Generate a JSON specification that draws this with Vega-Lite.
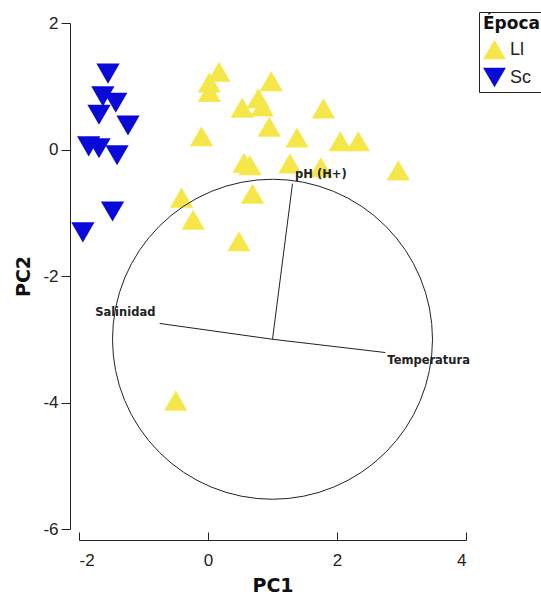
{
  "$schema": "https://vega.github.io/schema/vega-lite/v6.json",
  "autosize": {"type": "none"},
  "padding": {"left": 79, "top": 23, "right": 75, "bottom": 65},
  "width": 387,
  "height": 506,
  "background": "white",
  "config": {
    "view": {"stroke": null},
    "font": "DejaVu Sans",
    "axis": {
      "grid": false,
      "domainColor": "#222222",
      "tickColor": "#222222",
      "labelColor": "#222222",
      "labelFont": "Liberation Sans",
      "labelFontSize": 17,
      "titleFont": "DejaVu Sans",
      "titleFontSize": 19,
      "titleFontWeight": "bold",
      "titleColor": "#111111"
    }
  },
  "datasets": {
    "scores": [
      {"PC1": -1.55, "PC2": 1.20, "Epoca": "Sc"},
      {"PC1": -1.63, "PC2": 0.84, "Epoca": "Sc"},
      {"PC1": -1.43, "PC2": 0.74, "Epoca": "Sc"},
      {"PC1": -1.69, "PC2": 0.55, "Epoca": "Sc"},
      {"PC1": -1.24, "PC2": 0.38, "Epoca": "Sc"},
      {"PC1": -1.85, "PC2": 0.05, "Epoca": "Sc"},
      {"PC1": -1.69, "PC2": 0.02, "Epoca": "Sc"},
      {"PC1": -1.41, "PC2": -0.09, "Epoca": "Sc"},
      {"PC1": -1.48, "PC2": -0.98, "Epoca": "Sc"},
      {"PC1": -1.94, "PC2": -1.31, "Epoca": "Sc"},
      {"PC1": 0.17, "PC2": 1.23, "Epoca": "Ll"},
      {"PC1": 0.02, "PC2": 1.06, "Epoca": "Ll"},
      {"PC1": 0.02, "PC2": 0.91, "Epoca": "Ll"},
      {"PC1": 0.98, "PC2": 1.08, "Epoca": "Ll"},
      {"PC1": 0.53, "PC2": 0.66, "Epoca": "Ll"},
      {"PC1": 0.78, "PC2": 0.81, "Epoca": "Ll"},
      {"PC1": 0.84, "PC2": 0.68, "Epoca": "Ll"},
      {"PC1": 0.95, "PC2": 0.36, "Epoca": "Ll"},
      {"PC1": -0.10, "PC2": 0.21, "Epoca": "Ll"},
      {"PC1": 0.56, "PC2": -0.21, "Epoca": "Ll"},
      {"PC1": 0.65, "PC2": -0.25, "Epoca": "Ll"},
      {"PC1": 1.27, "PC2": -0.22, "Epoca": "Ll"},
      {"PC1": 1.79, "PC2": 0.65, "Epoca": "Ll"},
      {"PC1": 1.38, "PC2": 0.19, "Epoca": "Ll"},
      {"PC1": 2.05, "PC2": 0.13, "Epoca": "Ll"},
      {"PC1": 2.33, "PC2": 0.13, "Epoca": "Ll"},
      {"PC1": 1.75, "PC2": -0.28, "Epoca": "Ll"},
      {"PC1": 2.95, "PC2": -0.33, "Epoca": "Ll"},
      {"PC1": 0.69, "PC2": -0.70, "Epoca": "Ll"},
      {"PC1": -0.41, "PC2": -0.76, "Epoca": "Ll"},
      {"PC1": -0.23, "PC2": -1.11, "Epoca": "Ll"},
      {"PC1": 0.48, "PC2": -1.45, "Epoca": "Ll"},
      {"PC1": -0.50, "PC2": -3.97, "Epoca": "Ll"}
    ],
    "vectors": [
      {"variable": "pH (H+)", "x0": 1.0, "y0": -3.0, "x1": 1.31, "y1": -0.54, "lx": 1.35, "ly": -0.41},
      {"variable": "Salinidad", "x0": 1.0, "y0": -3.0, "x1": -0.75, "y1": -2.75, "lx": -1.75, "ly": -2.59},
      {"variable": "Temperatura", "x0": 1.0, "y0": -3.0, "x1": 2.75, "y1": -3.21, "lx": 2.78, "ly": -3.35}
    ],
    "circle": [
      {"cx": 1.0, "cy": -3.0}
    ]
  },
  "layer": [
    {
      "data": {"name": "scores"},
      "mark": {"type": "point", "filled": true, "opacity": 1, "size": 540},
      "encoding": {
        "x": {
          "field": "PC1", "type": "quantitative",
          "scale": {"domain": [-2, 4], "nice": false, "zero": false},
          "axis": {"title": "PC1", "values": [-2, 0, 2, 4], "labelExpr": "toString(datum.value)", "offset": 11, "tickSize": -8, "labelPadding": 20, "titlePadding": 8}
        },
        "y": {
          "field": "PC2", "type": "quantitative",
          "scale": {"domain": [-6, 2], "nice": false, "zero": false},
          "axis": {"title": "PC2", "values": [-6, -4, -2, 0, 2], "labelExpr": "toString(datum.value)", "offset": 9, "tickSize": 9, "labelPadding": 3, "titlePadding": 9}
        },
        "shape": {
          "field": "Epoca", "type": "nominal",
          "scale": {"domain": ["Ll", "Sc"], "range": ["triangle-up", "triangle-down"]},
          "legend": {"title": "Época"}
        },
        "color": {
          "field": "Epoca", "type": "nominal",
          "scale": {"domain": ["Ll", "Sc"], "range": ["#F5E74A", "#0A0AD8"]},
          "legend": {
            "title": "Época",
            "orient": "none",
            "legendX": 400,
            "legendY": -11,
            "strokeColor": "#222222",
            "padding": 4,
            "titleFontSize": 17,
            "titleFontWeight": "bold",
            "titleColor": "#111111",
            "titleFont": "DejaVu Sans",
            "labelFont": "Liberation Sans",
            "labelFontSize": 18,
            "labelColor": "#222222",
            "symbolSize": 520,
            "symbolStrokeWidth": 0,
            "rowPadding": 6
          }
        }
      }
    },
    {
      "data": {"name": "circle"},
      "mark": {"type": "point", "shape": "circle", "filled": false, "size": 102400, "stroke": "#222222", "strokeWidth": 1, "opacity": 1},
      "encoding": {
        "x": {"field": "cx", "type": "quantitative"},
        "y": {"field": "cy", "type": "quantitative"}
      }
    },
    {
      "data": {"name": "vectors"},
      "mark": {"type": "rule", "color": "#222222", "strokeWidth": 1},
      "encoding": {
        "x": {"field": "x0", "type": "quantitative"},
        "y": {"field": "y0", "type": "quantitative"},
        "x2": {"field": "x1"},
        "y2": {"field": "y1"}
      }
    },
    {
      "data": {"name": "vectors"},
      "mark": {"type": "text", "align": "left", "baseline": "middle", "fontSize": 11.5, "fontWeight": "bold", "font": "DejaVu Sans", "color": "#222222"},
      "encoding": {
        "x": {"field": "lx", "type": "quantitative"},
        "y": {"field": "ly", "type": "quantitative"},
        "text": {"field": "variable"}
      }
    }
  ]
}
